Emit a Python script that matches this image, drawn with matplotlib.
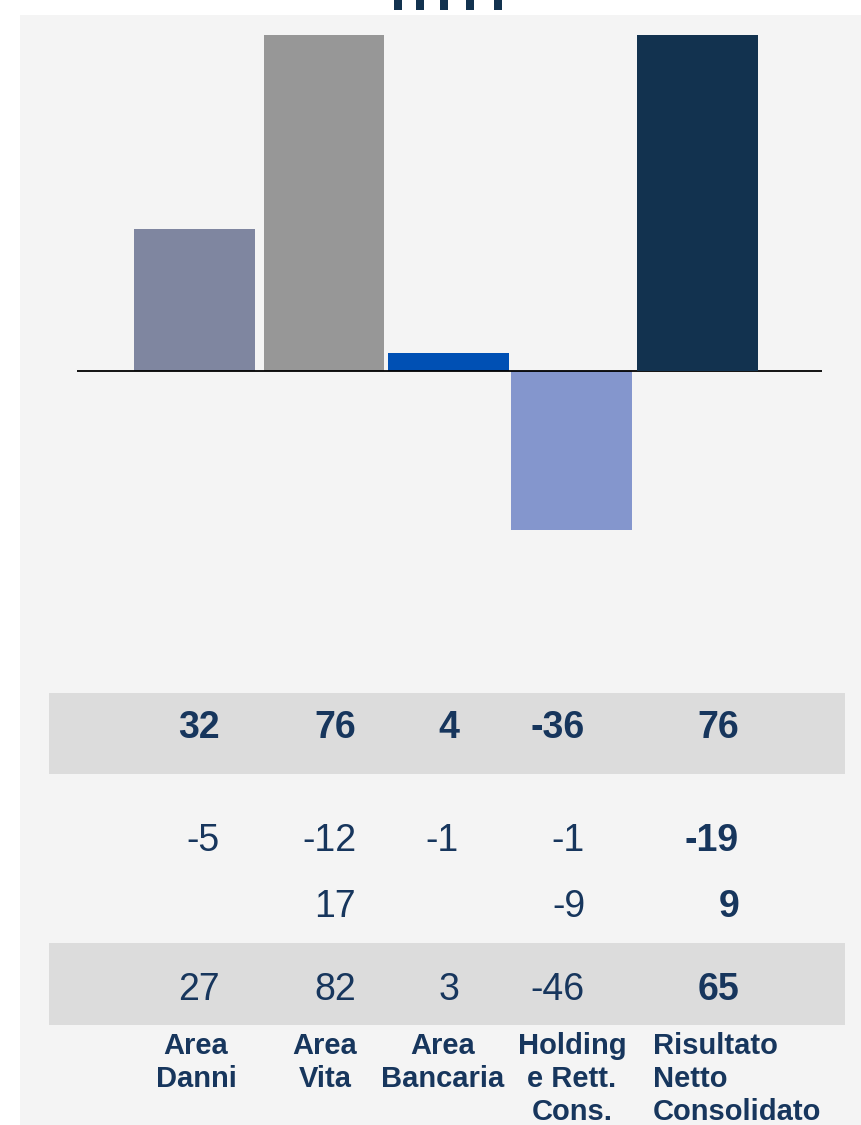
import matplotlib.pyplot as plt
from matplotlib.patches import Rectangle

plt.rcParams['font.family'] = ['Liberation Sans', 'DejaVu Sans']

# data
categories = ['Area\nDanni', 'Area\nVita', 'Area\nBancaria', 'Holding\ne Rett.\nCons.',
              'Risultato\nNetto\nConsolidato']
utile_ante = [32, 76, 4, -36, 76]
imposte = ['-5', '-12', '-1', '-1', '-19']
terzi = ['', '17', '', '-9', '9']
utile_netto = ['27', '82', '3', '-46', '65']
bar_colors = ['#7f86a0', '#979797', '#0050b4', '#8496cd', '#12324f']

navy = '#17365d'
W, H = 861, 1125
fig = plt.figure(figsize=(W / 100, H / 100), dpi=100)
fig.patch.set_facecolor('white')

# background layer in pixel coordinates
bg = fig.add_axes([0, 0, 1, 1], zorder=0)
bg.set_xlim(0, W)
bg.set_ylim(H, 0)
bg.axis('off')
bg.add_patch(Rectangle((20, 15), W - 20, H - 15, color='#f4f4f4', lw=0))
for xm in [394, 416, 440, 466, 494]:
    bg.add_patch(Rectangle((xm, 0), 8, 10, color='#12324f', lw=0))
for y0, y1 in [(693, 774), (943, 1025)]:
    bg.add_patch(Rectangle((49, y0), 796, y1 - y0, color='#dcdcdc', lw=0))

# bar chart
ax = fig.add_axes([77 / W, 1 - 560 / H, (822 - 77) / W, (560 - 15) / H], zorder=1)
ax.patch.set_alpha(0)
x = [0, 1.03, 2.02, 3.0, 4.0]
ax.bar(x, utile_ante, width=0.96, color=bar_colors, zorder=2)
ax.axhline(0, color='black', lw=1.3, zorder=3)
ax.bar([x[4]], [utile_ante[4]], width=0.96, color=bar_colors[4], zorder=4)
ax.set_xlim(-0.934, 4.99)
ax.set_ylim(-42.8, 80.5)
ax.axis('off')

# table
col_right = [220, 356, 459, 585, 739]
rows = [([str(v) for v in utile_ante], 738, True),
        (imposte, 851, False),
        (terzi, 917, False),
        (utile_netto, 1000, False)]
for vals, yb, bold_row in rows:
    for i, v in enumerate(vals):
        if not v:
            continue
        bold = bold_row or i == 4
        bg.text(col_right[i], yb, v, ha='right', va='baseline', fontsize=27,
                color=navy, fontweight='bold' if bold else 'normal')

# category labels
label_x = [196, 325, 443, 572, 653]
label_ha = ['center', 'center', 'center', 'center', 'left']
for i, lab in enumerate(categories):
    for j, line in enumerate(lab.split('\n')):
        bg.text(label_x[i], 1054 + 33 * j, line, ha=label_ha[i], va='baseline',
                fontsize=21, fontweight='bold', color=navy)

fig.savefig('out.png', dpi=100)
